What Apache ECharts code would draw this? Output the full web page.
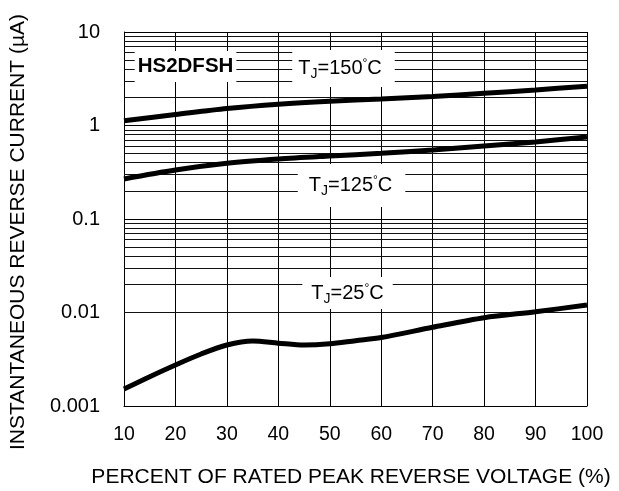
<!DOCTYPE html>
<html>
<head>
<meta charset="utf-8">
<script src="https://cdn.jsdelivr.net/npm/echarts@6/dist/echarts.min.js"></script>
<style>html,body{margin:0;padding:0;background:#fff}#c{width:619px;height:491px}</style>
</head>
<body>
<div id="c"></div>
<script>
// ---- data ----
const xTicks = [10, 20, 30, 40, 50, 60, 70, 80, 90, 100];
const yTickLabels = ['0.001', '0.01', '0.1', '1', '10'];
const decades = [0.001, 0.01, 0.1, 1];
const minorMultipliers = [2, 3, 4, 5, 6, 7, 8, 9];

const xHot = [10, 20, 30, 40, 50, 60, 70, 80, 90, 100];
const tj150 = [1.125, 1.31, 1.52, 1.69, 1.82, 1.92, 2.04, 2.21, 2.40, 2.63];
const tj125 = [0.268, 0.334, 0.394, 0.438, 0.472, 0.505, 0.548, 0.604, 0.667, 0.755];

const x25 = [10, 15, 20, 25, 30, 35, 40, 45, 50, 55, 60, 70, 80, 90, 100];
const tj25 = [0.00152, 0.00206, 0.00275, 0.0036, 0.00449, 0.00496, 0.0047, 0.00448, 0.00462, 0.005, 0.0054, 0.00695, 0.0088, 0.0102, 0.012];

const xTitle = 'PERCENT OF RATED PEAK REVERSE VOLTAGE (%)';
const yTitle = 'INSTANTANEOUS REVERSE CURRENT (\u00b5A)';
const partName = 'HS2DFSH';
const curveLabels = ['150', '125', '25'];

// ---- chart ----
const FONT = '"Liberation Sans", Arial, Helvetica, sans-serif';
const chart = echarts.init(document.getElementById('c'), null, {renderer: 'canvas'});

function pairs(xs, ys) { return xs.map((x, i) => [x, ys[i]]); }

const minorValues = [];
decades.forEach(d => minorMultipliers.forEach(m => minorValues.push(+(d * m).toPrecision(6))));

const rich = {
  t: {fontSize: 20, fontFamily: FONT, color: '#000', lineHeight: 26},
  s: {fontSize: 14, fontFamily: FONT, color: '#000', verticalAlign: 'bottom', lineHeight: 14},
  d: {fontSize: 12, fontFamily: FONT, color: '#000', verticalAlign: 'top', lineHeight: 12, padding: [3, 0, 0, 0]}
};
function tjText(t) { return '{t|T}{s|J}{t|=' + t + '}{d|\u00b0}{t|C}'; }

function annot(coord, formatter, padding, extra) {
  return {
    coord: coord,
    symbol: 'rect',
    symbolSize: 0,
    label: Object.assign({
      show: true,
      position: 'inside',
      formatter: formatter,
      backgroundColor: '#fff',
      padding: padding,
      rich: rich
    }, extra || {})
  };
}

function curve(name, data) {
  return {type: 'line', name: name, data: data, z: 5, smooth: 0.3,
          showSymbol: false, symbol: 'none', lineStyle: {color: '#000', width: 5}};
}

const option = {
  animation: false,
  backgroundColor: '#fff',
  grid: {left: 124, right: 32, top: 32, bottom: 85, containLabel: false},
  xAxis: {
    type: 'value', min: 10, max: 100, interval: 10,
    axisLine: {show: true, onZero: false, lineStyle: {color: '#000', width: 1}},
    axisTick: {show: false},
    splitLine: {show: true, lineStyle: {color: '#000', width: 1}},
    axisLabel: {
      margin: 19, color: '#000', fontSize: 19.5, fontFamily: FONT,
      formatter: v => (xTicks.indexOf(v) >= 0 ? String(v) : '')
    }
  },
  yAxis: {
    type: 'log', logBase: 10, min: 0.001, max: 10,
    axisLine: {show: true, lineStyle: {color: '#000', width: 1}},
    axisTick: {show: false},
    splitLine: {show: true, lineStyle: {color: '#000', width: 1}},
    axisLabel: {
      margin: 24, color: '#000', fontSize: 20, fontFamily: FONT,
      formatter: v => {
        const i = Math.round(Math.log10(v)) + 3;
        return yTickLabels[i] !== undefined ? yTickLabels[i] : '';
      }
    }
  },
  graphic: [
    {type: 'text', x: 351, y: 477, z: 100,
     style: {text: xTitle, font: '21px ' + FONT, fill: '#000', align: 'center', verticalAlign: 'middle'}},
    {type: 'text', x: 18, y: 232, rotation: Math.PI / 2, z: 100,
     style: {text: yTitle, font: '21px ' + FONT, fill: '#000', align: 'center', verticalAlign: 'middle'}}
  ],
  series: [
    {
      type: 'line', data: [], z: 1, silent: true,
      markLine: {
        silent: true, symbol: ['none', 'none'], animation: false,
        label: {show: false},
        lineStyle: {color: '#111', width: 1, type: 'solid'},
        emphasis: {disabled: true},
        data: minorValues.map(v => ({yAxis: v}))
      }
    },
    curve('150', pairs(xHot, tj150)),
    curve('125', pairs(xHot, tj125)),
    curve('25', pairs(x25, tj25)),
    {
      type: 'line', data: [], z: 10, silent: true,
      markPoint: {
        silent: true, animation: false,
        data: [
          annot([21.96, 4.27], partName, [3, 3, 4, 3],
                {fontSize: 20.5, fontWeight: 'bold', fontFamily: FONT, color: '#000', lineHeight: 24}),
          annot([52.67, 4.07], tjText(curveLabels[0]), [5, 13, 6, 6]),
          annot([54.23, 0.228], tjText(curveLabels[1]), [8, 13, 9, 11]),
          annot([53.45, 0.01617], tjText(curveLabels[2]), [3, 9, 3, 9])
        ]
      }
    }
  ]
};
chart.setOption(option);
</script>
</body>
</html>
